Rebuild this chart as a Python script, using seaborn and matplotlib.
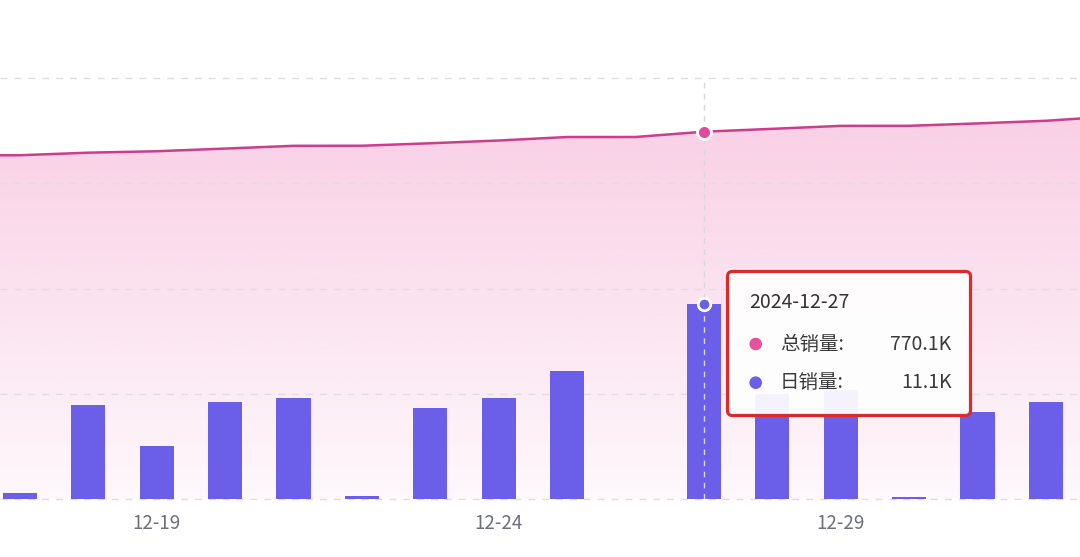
import numpy as np
import pandas as pd
import matplotlib
matplotlib.use("Agg")
import matplotlib.pyplot as plt
import seaborn as sns
from matplotlib.patches import FancyBboxPatch, Circle

# ---------------- data (K units) ----------------
dates = ["12-16", "12-17", "12-18", "12-19", "12-20", "12-21", "12-22", "12-23",
         "12-24", "12-25", "12-26", "12-27", "12-28", "12-29", "12-30", "12-31",
         "01-01", "01-02"]
daily_k = [4.8, 0.38, 5.37, 3.03, 5.56, 5.77, 0.17, 5.22,
           5.75, 7.33, 0.04, 11.1, 6.0, 6.2, 0.15, 4.99,
           5.52, 9.5]
total_k = [720.4, 720.78, 726.15, 729.18, 734.74, 740.51, 740.68, 745.9,
           751.65, 758.95, 759.0, 770.1, 776.1, 782.3, 782.45, 787.44,
           792.96, 802.5]
tick_labels = ["12-19", "12-24", "12-29"]
series_names = ["总销量", "日销量"]
tooltip_date = "2024-12-27"
tooltip_key = "12-27"
tooltip_values = ["770.1K", "11.1K"]

# ---------------- style ----------------
BAR = "#6B5EE8"
LINE = "#CC3D8C"
PINK = "#E4479B"
GRID = "#DEDEDE"
TICK_TXT = "#6E7079"

sns.set_theme(style="white")
plt.rcParams["font.family"] = ["Noto Sans CJK SC", "DejaVu Sans"]

df = pd.DataFrame({"date": dates, "daily": daily_k, "total": total_k})

W, H = 1080, 557
fig = plt.figure(figsize=(W / 100, H / 100), dpi=100)
base_px, top_px = 499.3, 78.0
ax = fig.add_axes([0, (H - base_px) / H, 1, (base_px - top_px) / H])

LINE_MAX = 882.6
BAR_MAX = 24.0

# line (total) with gradient area
sns.lineplot(data=df, x="date", y="total", ax=ax, color=LINE, linewidth=1.8,
             sort=False, zorder=3)
xpos = np.arange(len(dates))
poly = ax.fill_between(xpos, df["total"], 0, facecolor="none", linewidth=0)
grad = np.zeros((256, 1, 4))
rgb = matplotlib.colors.to_rgb("#E84C9E")
grad[..., 0], grad[..., 1], grad[..., 2] = rgb
frac = np.linspace(0, 1, 256).reshape(-1, 1)
grad[..., 3] = np.clip(0.04 + 0.22 * frac / 0.874, 0, 0.3)
img = ax.imshow(grad, extent=[-1, len(dates), 0, LINE_MAX], origin="lower",
                aspect="auto", zorder=1)
img.set_clip_path(poly.get_paths()[0], transform=ax.transData)

ax.set_ylim(0, LINE_MAX)
ax.grid(False)
for gv in np.linspace(0, LINE_MAX, 5):
    ax.axhline(gv, color=GRID, linestyle=(0, (5, 5)), linewidth=1,
               zorder=1.5, clip_on=False)
ax.set_yticks([])
ax.set_ylabel("")
ax.set_xlabel("")
for s in ax.spines.values():
    s.set_visible(False)

# bars (daily)
ax2 = ax.twinx()
sns.barplot(data=df, x="date", y="daily", ax=ax2, color=BAR, width=0.5,
            saturation=1, errorbar=None, linewidth=0, order=dates, zorder=2)
ax2.set_ylim(0, BAR_MAX)
ax2.set_yticks([])
ax2.set_ylabel("")
ax2.grid(False)
for s in ax2.spines.values():
    s.set_visible(False)

ax.set_xlim(0.709, 16.499)
ax.set_xticks([dates.index(t) for t in tick_labels])
ax.set_xticklabels(tick_labels)
ax.tick_params(axis="x", length=4, width=1, color="#C8C8C8", direction="out",
               labelcolor=TICK_TXT, labelsize=13.5, pad=6)

# hover state
k = dates.index(tooltip_key)
ax2.axvline(k, color="#D8D8D8", linewidth=1, linestyle=(0, (4, 4)), zorder=4)
ax2.plot([k], [daily_k[k]], "o", ms=9, mfc=BAR, mec="white", mew=2, zorder=6)
ax2.plot([k], [total_k[k]], "o", ms=10, mfc=PINK, mec="white", mew=2,
         zorder=6, transform=ax.transData, clip_on=False)

# tooltip overlay in pixel coordinates
ov = fig.add_axes([0, 0, 1, 1], zorder=10)
ov.set_xlim(0, W)
ov.set_ylim(H, 0)
ov.axis("off")
ov.patch.set_alpha(0)
box = FancyBboxPatch((727.5, 271.5), 243, 144,
                     boxstyle="round,pad=0,rounding_size=5",
                     facecolor=(1, 1, 1, 0.93), edgecolor="#D92B2B",
                     linewidth=2.3)
ov.add_patch(box)
ov.text(749, 303, tooltip_date, fontsize=14, color="#333333",
        ha="left", va="center")
dot_colors = ["#E4549E", BAR]
rows_y = [344, 382.7]
for name, val, c, yy in zip(series_names, tooltip_values, dot_colors, rows_y):
    ov.add_patch(Circle((755.7, yy), 6.3, facecolor=c, edgecolor="none"))
    ov.text(780, yy, name + ":", fontsize=14, color="#3A3A3A",
            ha="left", va="center")
    ov.text(951.7, yy, val, fontsize=14, color="#3A3A3A",
            ha="right", va="center")

fig.savefig("out.png", dpi=100)
